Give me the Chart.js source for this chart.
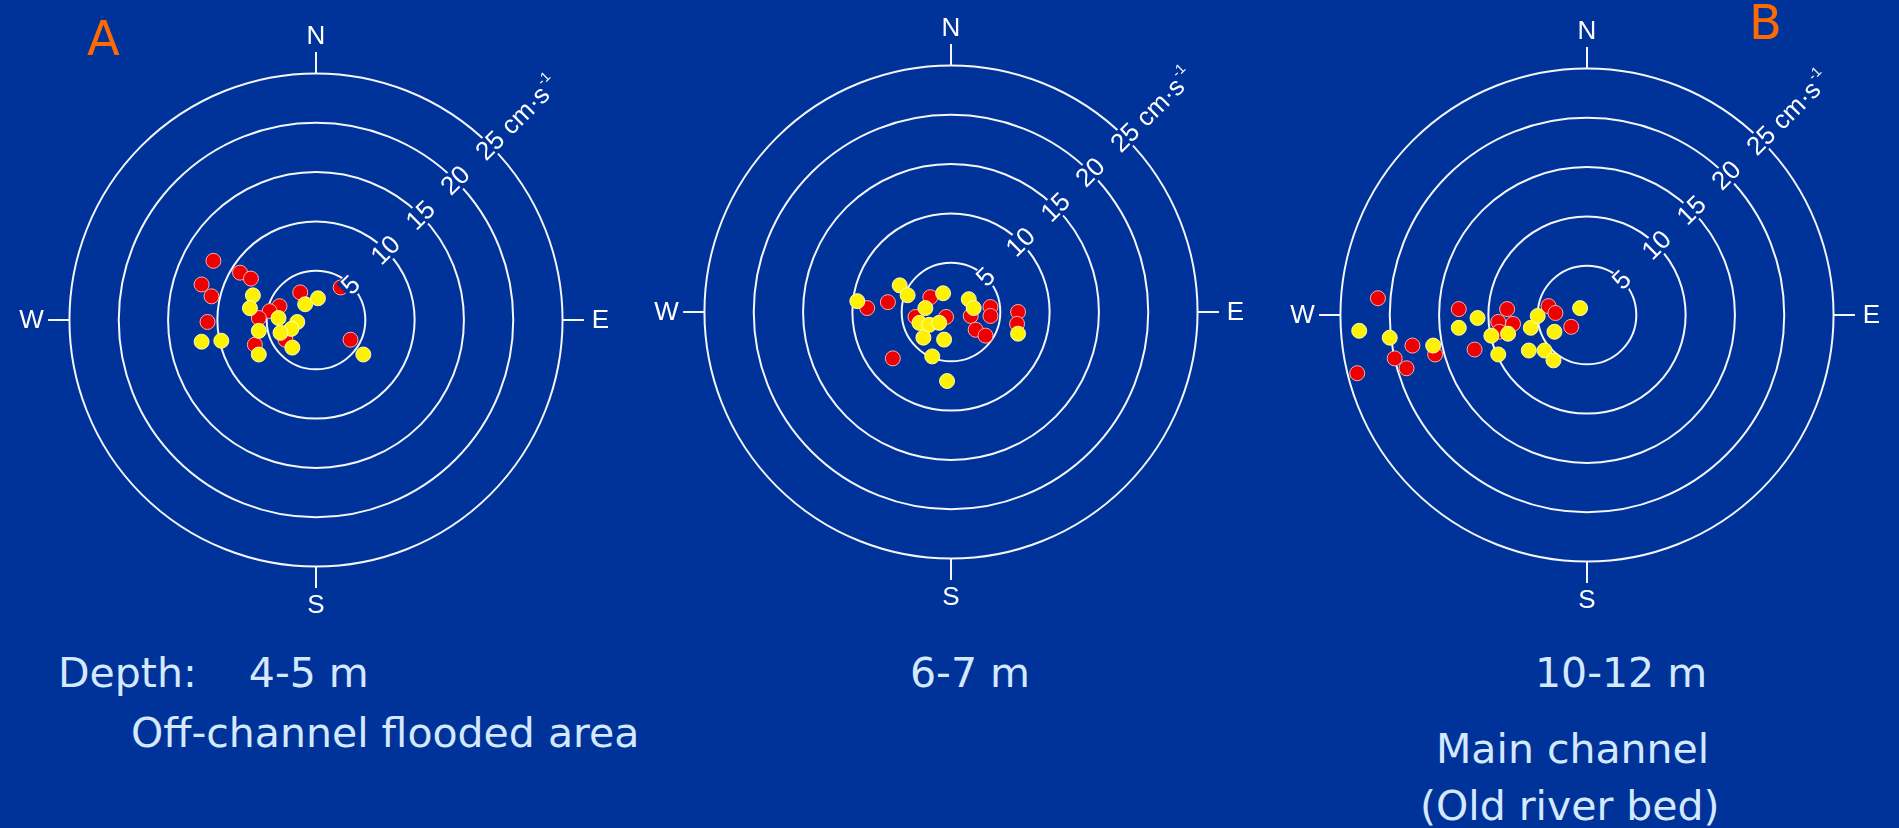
<!DOCTYPE html>
<html>
<head>
<meta charset="utf-8">
<script src="https://cdn.jsdelivr.net/npm/chart.js@4/dist/chart.umd.min.js"></script>
<style>
  html, body { margin:0; padding:0; }
  body { width:1899px; height:828px; overflow:hidden; position:relative; background:#003399; }
  .panel { position:absolute; width:620px; height:620px; }
  .txt { position:absolute; white-space:pre; font-family:"DejaVu Sans", sans-serif; font-size:41px; line-height:41px; color:#d4e9ff; }
  .tag { position:absolute; font-family:"DejaVu Sans", sans-serif; font-size:48px; line-height:48px; color:#ff6a00; }
</style>
</head>
<body>
<div class="panel" style="left:6px;top:10px"><canvas id="c1" width="620" height="620"></canvas></div>
<div class="panel" style="left:641px;top:2px"><canvas id="c2" width="620" height="620"></canvas></div>
<div class="panel" style="left:1277px;top:5px"><canvas id="c3" width="620" height="620"></canvas></div>

<div class="tag" style="left:87px;top:14px">A</div>
<div class="tag" style="left:1749px;top:-2px">B</div>

<div class="txt" id="t1" style="left:58px;top:653px"></div>
<div class="txt" id="t2" style="left:131px;top:713px"></div>
<div class="txt" id="t3" style="left:910px;top:653px"></div>
<div class="txt" id="t4" style="left:1535px;top:653px"></div>
<div class="txt" id="t5" style="left:1436px;top:729px"></div>
<div class="txt" id="t6" style="left:1420px;top:786px"></div>

<script>
// ---------- data (cm/s, east / north components) ----------
const ringValues = [5, 10, 15, 20, 25];
const ringUnit = "cm·s";
const compassLabels = ["N", "E", "S", "W"];
const depthLabels = ["Depth:    4-5 m", "6-7 m", "10-12 m"];
const siteLabels = ["Off-channel flooded area", "Main channel", "(Old river bed)"];

const p1RedE = [-10.4, -7.7, -6.6, -11.6, -10.6, -1.6, 2.5, -3.7, -4.7, -5.8, -11.0, -6.2, -3.1, 3.5];
const p1RedN = [6.0, 4.8, 4.2, 3.6, 2.4, 2.8, 3.3, 1.4, 0.9, 0.2, -0.2, -2.5, -2.0, -2.0];
const p1YelE = [-6.4, -6.7, -1.1, 0.2, -3.8, -1.9, -2.5, -3.6, -5.8, -11.6, -9.6, -5.8, -2.4, 4.8];
const p1YelN = [2.5, 1.2, 1.6, 2.2, 0.2, -0.2, -0.9, -1.3, -1.1, -2.2, -2.1, -3.5, -2.8, -3.5];

const p2RedE = [-8.5, -6.4, -2.1, -3.6, -0.5, 2.0, 2.5, 3.5, 4.0, 4.0, 6.8, 6.7, -5.9];
const p2RedN = [0.4, 1.0, 1.5, -0.5, -0.5, -0.4, -1.8, -2.4, 0.5, -0.4, 0.0, -1.2, -4.7];
const p2YelE = [-9.5, -5.2, -4.4, -0.8, -2.6, 1.8, 2.3, -3.2, -2.2, -1.2, -2.8, -0.7, -1.9, -0.4, 6.8];
const p2YelN = [1.1, 2.7, 1.7, 1.9, 0.4, 1.3, 0.4, -1.1, -1.3, -1.1, -2.6, -2.8, -4.5, -7.0, -2.2];

const p3RedE = [-21.2, -23.3, -19.5, -18.3, -17.7, -15.4, -13.0, -11.4, -9.0, -8.1, -7.5, -8.9, -3.9, -3.2, -1.6];
const p3RedN = [1.7, -5.9, -4.4, -5.4, -3.1, -4.0, 0.6, -3.5, -0.7, 0.6, -0.9, -1.7, 0.9, 0.2, -1.2];
const p3YelE = [-23.1, -20.0, -15.6, -13.0, -11.1, -9.7, -8.0, -9.0, -5.9, -5.7, -5.0, -4.3, -3.4, -3.3, -0.7];
const p3YelN = [-1.6, -2.3, -3.1, -1.3, -0.3, -2.1, -1.9, -4.0, -3.6, -1.3, -0.1, -3.6, -4.6, -1.7, 0.7];

// ---------- style ----------
const BG = "#003399";
const RED = "#ee0000", YELLOW = "#fff200";
const PX_PER_UNIT = 10.14;
const HALF = 310;
const RANGE = HALF / PX_PER_UNIT;
const TICK_END = 25 + 22 / PX_PER_UNIT;
const LABEL_AT = 25 + 39 / PX_PER_UNIT;
const RING_FONT = '26px "Liberation Sans", Arial, sans-serif';
const SUP_FONT = '14px "Liberation Sans", Arial, sans-serif';

document.getElementById("t1").textContent = depthLabels[0];
document.getElementById("t3").textContent = depthLabels[1];
document.getElementById("t4").textContent = depthLabels[2];
document.getElementById("t2").textContent = siteLabels[0];
document.getElementById("t5").textContent = siteLabels[1];
document.getElementById("t6").textContent = siteLabels[2];

function zip(a, b) { return a.map((v, i) => ({ x: v, y: b[i] })); }

const rosePlugin = {
  id: "rose",
  beforeDatasetsDraw(chart) {
    const { ctx, scales: { x, y } } = chart;
    const cx = x.getPixelForValue(0), cy = y.getPixelForValue(0);
    ctx.save();
    ctx.strokeStyle = "#f4f6fb";
    ctx.lineWidth = 2;
    ringValues.forEach(v => {
      const rx = x.getPixelForValue(v) - cx, ry = cy - y.getPixelForValue(v);
      ctx.beginPath();
      ctx.ellipse(cx, cy, rx, ry, 0, 0, Math.PI * 2);
      ctx.stroke();
    });
    const R = ringValues[ringValues.length - 1];
    const dirs = [[0, 1], [1, 0], [0, -1], [-1, 0]];
    ctx.fillStyle = "#ffffff";
    ctx.font = '26px "Liberation Sans", Arial, sans-serif';
    ctx.textAlign = "center";
    ctx.textBaseline = "middle";
    dirs.forEach((d, i) => {
      ctx.beginPath();
      ctx.moveTo(x.getPixelForValue(d[0] * R), y.getPixelForValue(d[1] * R));
      ctx.lineTo(x.getPixelForValue(d[0] * TICK_END), y.getPixelForValue(d[1] * TICK_END));
      ctx.stroke();
      ctx.fillText(compassLabels[i], x.getPixelForValue(d[0] * LABEL_AT), y.getPixelForValue(d[1] * LABEL_AT) + 1);
    });
    ctx.restore();
  },
  afterDatasetsDraw(chart) {
    const { ctx, scales: { x, y } } = chart;
    const c = Math.SQRT1_2;
    ctx.save();
    ringValues.forEach((v, i) => {
      const px = x.getPixelForValue(v * c), py = y.getPixelForValue(v * c);
      ctx.save();
      ctx.translate(px, py);
      ctx.rotate(-Math.PI / 4);
      ctx.font = RING_FONT;
      ctx.textBaseline = "middle";
      ctx.textAlign = "left";
      const num = String(v);
      const wn = ctx.measureText(num).width;
      const last = i === ringValues.length - 1;
      const main = last ? num + " " + ringUnit : num;
      const wm = ctx.measureText(main).width;
      ctx.font = SUP_FONT;
      const sup = "-1";
      const ws = last ? ctx.measureText(sup).width : 0;
      const x0 = -wn / 2;
      ctx.fillStyle = BG;
      ctx.fillRect(x0 - 2, -11, wm + ws + 5, 22);
      ctx.fillStyle = "#ffffff";
      ctx.font = RING_FONT;
      ctx.fillText(main, x0, 1);
      if (last) {
        ctx.font = SUP_FONT;
        ctx.fillText(sup, x0 + wm + 1, -9);
      }
      ctx.restore();
    });
    ctx.restore();
  }
};

function makeChart(id, yE, yN, rE, rN) {
  return new Chart(document.getElementById(id), {
    type: "scatter",
    data: {
      datasets: [
        { label: "yellow", data: zip(yE, yN), backgroundColor: YELLOW, borderColor: "rgba(255,255,210,0.9)", borderWidth: 1, pointRadius: 7.5, order: 1 },
        { label: "red", data: zip(rE, rN), backgroundColor: RED, borderColor: "rgba(255,190,190,0.9)", borderWidth: 1, pointRadius: 7.5, order: 2 }
      ]
    },
    options: {
      responsive: false,
      animation: false,
      events: [],
      devicePixelRatio: 1,
      layout: { padding: 0 },
      plugins: { legend: { display: false }, tooltip: { enabled: false } },
      scales: {
        x: { type: "linear", min: -RANGE, max: RANGE, display: false },
        y: { type: "linear", min: -RANGE, max: RANGE, display: false }
      }
    },
    plugins: [rosePlugin]
  });
}

makeChart("c1", p1YelE, p1YelN, p1RedE, p1RedN);
makeChart("c2", p2YelE, p2YelN, p2RedE, p2RedN);
makeChart("c3", p3YelE, p3YelN, p3RedE, p3RedN);
</script>
</body>
</html>
